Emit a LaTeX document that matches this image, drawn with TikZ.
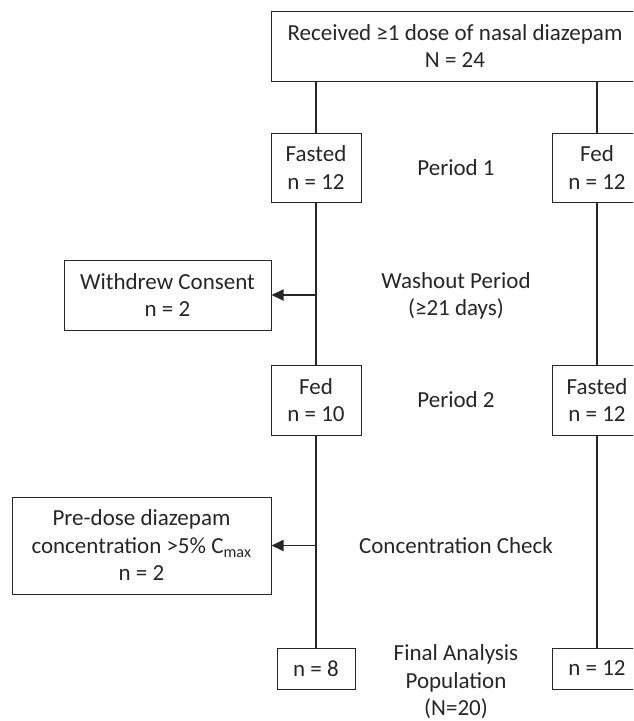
\documentclass[tikz,border=0pt]{standalone}
\usepackage{fontspec}
\setmainfont{Carlito}
\usetikzlibrary{arrows.meta}
\begin{document}
\begin{tikzpicture}[x=1pt,y=-1pt,
  box/.style={draw=black!85,line width=1pt,align=center,inner sep=0pt,text=black!85,font=\fontsize{23}{27.5}\selectfont},
  lbl/.style={align=center,inner sep=0pt,text=black!85,font=\fontsize{23}{27.5}\selectfont},
  conn/.style={draw=black!85,line width=1.8pt},
  arr/.style={conn,-{Triangle[length=12pt,width=11pt]}}]
\useasboundingbox (0,0) rectangle (633,721);
\clip (0,0) rectangle (633,721);
\node[box,minimum width=368pt,minimum height=70pt] (top) at (455,46) {Received ≥1 dose of nasal diazepam\\N = 24};
\node[box,minimum width=90pt,minimum height=69pt] (fasted1) at (316,167.5) {Fasted\\n = 12};
\node[box,minimum width=90pt,minimum height=69pt] (fed1) at (597,167.5) {Fed\\n = 12};
\node[box,minimum width=207pt,minimum height=70pt] (withdrew) at (167.5,295) {Withdrew Consent\\n = 2};
\node[box,minimum width=90pt,minimum height=70pt] (fed2) at (316,400) {Fed\\n = 10};
\node[box,minimum width=90pt,minimum height=70pt] (fasted2) at (597,400) {Fasted\\n = 12};
\node[box,minimum width=259pt,minimum height=97pt] (predose) at (141.5,545.5) {Pre-dose diazepam\\concentration >5\% C\textsubscript{max}\\n = 2};
\node[box,minimum width=78pt,minimum height=41pt] (n8) at (316,668.5) {n = 8};
\node[box,minimum width=90pt,minimum height=41pt] (n12) at (597,668.5) {n = 12};
\node[lbl] (p1) at (456,168) {Period 1};
\node[lbl] (wash) at (456,296) {Washout Period\\(≥21 days)};
\node[lbl] (p2) at (456,400) {Period 2};
\node[lbl] (cc) at (456,546) {Concentration Check};
\node[lbl] (fap) at (456,682) {Final Analysis\\Population\\(N=20)};
\draw[conn] (top.south -| fasted1) -- (fasted1.north);
\draw[conn] (top.south -| fed1) -- (fed1.north);
\draw[conn] (fasted1.south) -- (fed2.north);
\draw[conn] (fed1.south) -- (fasted2.north);
\draw[conn] (fed2.south) -- (n8.north);
\draw[conn] (fasted2.south) -- (n12.north);
\coordinate (w1) at (fasted1 |- withdrew.east);
\coordinate (w2) at (fed2 |- predose.east);
\draw[arr] (w1) -- (withdrew.east);
\draw[arr] (w2) -- (predose.east);
\end{tikzpicture}
\end{document}
